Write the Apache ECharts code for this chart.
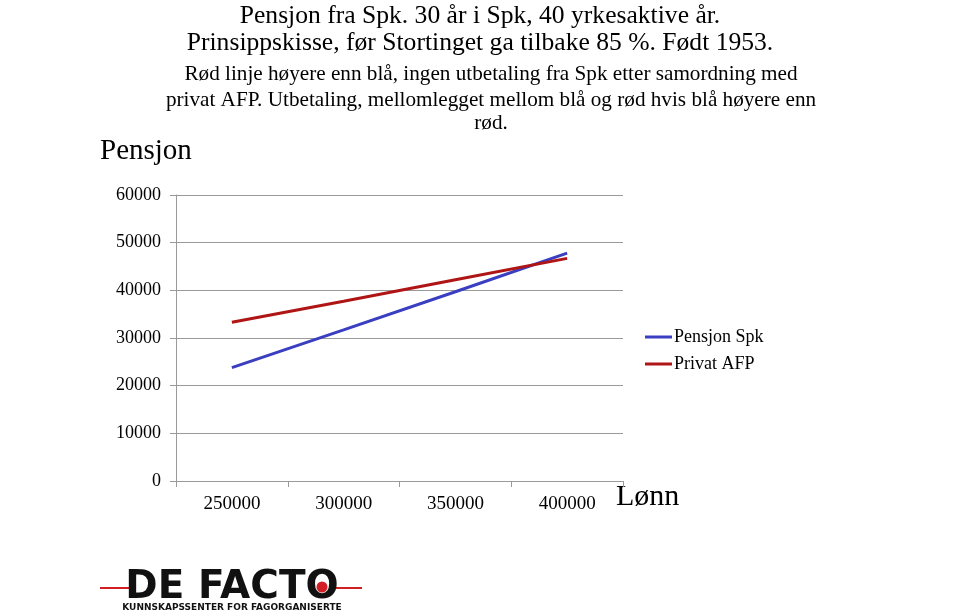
<!DOCTYPE html>
<html>
<head>
<meta charset="utf-8">
<script src="https://cdn.jsdelivr.net/npm/echarts@6/dist/echarts.min.js"></script>
<style>html,body{margin:0;padding:0;background:#fff}#c{width:959px;height:614px}</style>
</head>
<body>
<div id="c"></div>
<script>
const categories = ['250000', '300000', '350000', '400000'];
const pensjonSpk = [23800, 31700, 39700, 47800];
const privatAFP = [33300, 37700, 42200, 46700];
const seriesNames = ['Pensjon Spk', 'Privat AFP'];
const titleLines = [
  'Pensjon fra Spk. 30 år i Spk, 40 yrkesaktive år.',
  'Prinsippskisse, før Stortinget ga tilbake 85 %. Født 1953.'
];
const subLines = [
  'Rød linje høyere enn blå, ingen utbetaling fra Spk etter samordning med',
  'privat AFP. Utbetaling, mellomlegget mellom blå og rød hvis blå høyere enn',
  'rød.'
];
const yAxisName = 'Pensjon';
const xAxisName = 'Lønn';

const serif = '"Liberation Serif", "Times New Roman", serif';
const chart = echarts.init(document.getElementById('c'), null, {renderer: 'canvas'});

const graphics = [];
const titleY = [16, 43];
titleLines.forEach((t, i) => graphics.push({
  type: 'text', x: 480, y: titleY[i],
  style: {text: t, font: '25.6px ' + serif, fill: '#000', textAlign: 'center', textVerticalAlign: 'middle'}
}));
const subY = [74, 100, 123];
subLines.forEach((t, i) => graphics.push({
  type: 'text', x: 491, y: subY[i],
  style: {text: t, font: '21.2px ' + serif, fill: '#000', textAlign: 'center', textVerticalAlign: 'middle'}
}));
graphics.push({type: 'text', x: 100, y: 151, style: {text: yAxisName, font: '29px ' + serif, fill: '#000', textVerticalAlign: 'middle'}});
graphics.push({type: 'text', x: 616, y: 497, style: {text: xAxisName, font: '30px ' + serif, fill: '#000', textVerticalAlign: 'middle'}});
// logo
graphics.push({type: 'line', shape: {x1: 100, y1: 588, x2: 130, y2: 588}, style: {stroke: '#d21f26', lineWidth: 2}});
graphics.push({type: 'line', shape: {x1: 336, y1: 588, x2: 362, y2: 588}, style: {stroke: '#d21f26', lineWidth: 2}});
graphics.push({type: 'text', x: 232, y: 588, style: {text: 'DE FACTO', font: 'bold 39px "DejaVu Sans", sans-serif', fill: '#111', textAlign: 'center', textVerticalAlign: 'middle'}});
graphics.push({type: 'circle', shape: {cx: 322, cy: 587, r: 5.5}, style: {fill: '#d21f26'}, z: 10});
graphics.push({type: 'text', x: 232, y: 608, style: {text: 'KUNNSKAPSSENTER FOR FAGORGANISERTE', font: 'bold 9px "DejaVu Sans", sans-serif', fill: '#111', textAlign: 'center', textVerticalAlign: 'middle'}});

chart.setOption({
  animation: false,
  backgroundColor: '#fff',
  grid: {left: 176, right: 336, top: 195, bottom: 133, containLabel: false},
  legend: {
    orient: 'vertical', left: 645, top: 328, itemGap: 9, padding: 0,
    itemWidth: 27, itemHeight: 3,
    icon: 'rect',
    textStyle: {fontFamily: serif, fontSize: 18, color: '#000', padding: [0, 0, 0, -3]},
    data: seriesNames
  },
  xAxis: {
    type: 'category', data: categories, boundaryGap: true,
    axisLine: {lineStyle: {color: '#9a9a9a', width: 1}},
    axisTick: {show: true, length: 6, lineStyle: {color: '#9a9a9a'}},
    axisLabel: {fontFamily: serif, fontSize: 19, color: '#000', margin: 14}
  },
  yAxis: {
    type: 'value', min: 0, max: 60000, interval: 10000,
    axisLine: {show: true, lineStyle: {color: '#9a9a9a', width: 1}},
    axisTick: {show: true, length: 6, lineStyle: {color: '#9a9a9a'}},
    axisLabel: {fontFamily: serif, fontSize: 18, color: '#000', margin: 15, formatter: v => String(v)},
    splitLine: {lineStyle: {color: '#9a9a9a', width: 1}}
  },
  series: [
    {name: seriesNames[0], type: 'line', data: pensjonSpk, showSymbol: false, symbol: 'none',
     lineStyle: {color: '#3a3ec0', width: 3}, itemStyle: {color: '#3a3ec0'}},
    {name: seriesNames[1], type: 'line', data: privatAFP, showSymbol: false, symbol: 'none',
     lineStyle: {color: '#b01515', width: 3}, itemStyle: {color: '#b01515'}}
  ],
  graphic: graphics
});
</script>
</body>
</html>
